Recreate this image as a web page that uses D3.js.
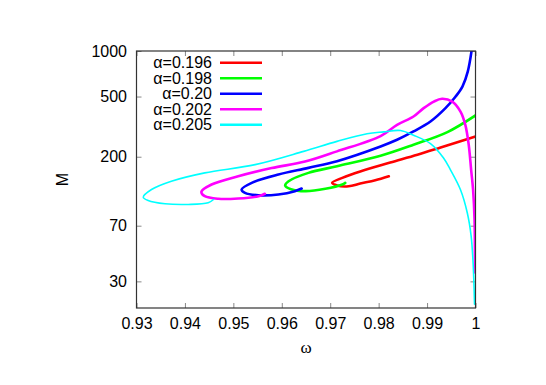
<!DOCTYPE html>
<meta charset="utf-8">
<title>M vs omega</title>
<style>
body { margin: 0; background: #fff; }
text { font-family: "Liberation Sans", Arial, sans-serif; }
.tick line { stroke: #888; }
.curve { fill: none; stroke-linejoin: round; stroke-linecap: round; }
</style>
<body>
<svg width="546" height="385" id="svg"></svg>
<script src="https://d3js.org/d3.v7.min.js"></script>
<script>

// values, (omega, M) per alpha
var alphas = ["0.196", "0.198", "0.20", "0.202", "0.205"];
var colors = ["#ff0000", "#00ff00", "#0000ff", "#ff00ff", "#00ffff"];

var w196 = [1.0000, 0.9928, 0.9880, 0.9824, 0.9762, 0.9725, 0.9704, 0.9714, 0.9738, 0.9762, 0.9793, 0.9821];
var m196 = [272, 230, 206, 183, 160, 145, 134.4, 129.1, 127.6, 133, 139.8, 148.6];

var w198 = [1.0000, 0.9942, 0.9872, 0.9804, 0.9714, 0.9655, 0.9614, 0.9607, 0.9619, 0.9649, 0.9690, 0.9725, 0.9731];
var m198 = [375, 291, 240, 203, 173, 156.4, 137.7, 129.1, 122, 118.4, 122.7, 131, 134.4];

var w200 = [0.9995, 0.9984, 0.9973, 0.9959, 0.9938, 0.9907, 0.9872, 0.9838, 0.9804, 0.9714, 0.9655, 0.9593, 0.9538, 0.9517, 0.9524, 0.9552, 0.9593, 0.9627, 0.9641];
var m200 = [1180, 730, 582, 500, 419, 342, 294, 259, 234, 187, 168.8, 152.5, 134.4, 121.4, 115.5, 111.4, 112.6, 118.4, 123.3];

var w202 = [0.9999, 0.9998, 0.9995, 0.9991, 0.9986, 0.9979, 0.9969, 0.9952, 0.9931, 0.9914, 0.9893, 0.9872, 0.9838, 0.9804, 0.9714, 0.9648, 0.9579, 0.9510, 0.9455, 0.9434, 0.9441, 0.9469, 0.9510, 0.9552, 0.9565];
var m202 = [34.3, 77, 121, 164, 240, 325, 398, 463, 483, 463, 419, 369, 325, 274, 217, 185.7, 168.3, 148.6, 131, 117.3, 109.7, 105.4, 105.9, 109.7, 113.8];

var w205 = [0.9998, 0.9995, 0.9991, 0.9983, 0.9969, 0.9948, 0.9934, 0.9907, 0.9872, 0.9845, 0.9810, 0.9776, 0.9714, 0.9645, 0.9545, 0.9441, 0.9372, 0.9331, 0.9314, 0.9324, 0.9359, 0.9407, 0.9448, 0.9459];
var m205 = [21.2, 39.9, 59.8, 85.3, 121, 164.5, 196, 244, 277.5, 298, 292, 284, 252.6, 217, 177.4, 156.4, 137.7, 121.4, 108, 102.8, 97.7, 96.7, 99.2, 104.3];

var xTicks = [0.93, 0.94, 0.95, 0.96, 0.97, 0.98, 0.99, 1];
var yTicks = [30, 70, 200, 500, 1000];

var series = [[w196, m196], [w198, m198], [w200, m200], [w202, m202], [w205, m205]];
var widths = [2.6, 2.6, 2.6, 2.6, 1.6];

var svg = d3.select("svg"),
    margin = {left: 136.5, right: 70.5, top: 51, bottom: 77};
var width = 546 - margin.left - margin.right,
    height = 385 - margin.top - margin.bottom;

var x = d3.scaleLinear().domain([0.93, 1]).range([0, width]);
var y = d3.scaleLog().domain([20, 1000]).range([height, 0]);

var g = svg.append("g").attr("transform", "translate(" + margin.left + "," + margin.top + ")");

g.append("clipPath").attr("id", "clip")
  .append("rect").attr("width", width).attr("height", height);

function fmtX(d) { return d === 1 ? "1" : d3.format(".2f")(d); }

var axB = g.append("g").attr("transform", "translate(0," + height + ")")
  .call(d3.axisBottom(x).tickValues(xTicks).tickFormat(fmtX).tickSize(-5).tickPadding(10));
var axT = g.append("g")
  .call(d3.axisTop(x).tickValues(xTicks).tickFormat("").tickSize(-5));
var axL = g.append("g")
  .call(d3.axisLeft(y).tickValues(yTicks).tickFormat(d3.format("d")).tickSize(-5).tickPadding(9.5));
var axR = g.append("g").attr("transform", "translate(" + width + ",0)")
  .call(d3.axisRight(y).tickValues(yTicks).tickFormat("").tickSize(-5));

[axB, axT, axL, axR].forEach(function(a) {
  a.attr("font-size", null).attr("font-family", null);
  a.select(".domain").remove();
  a.selectAll("text").attr("fill", "#000").style("font-size", "16px");
});

var line = d3.line()
    .x(function(d) { return x(d[0]); })
    .y(function(d) { return y(d[1]); })
    .curve(d3.curveCatmullRom.alpha(0.5));

var plot = g.append("g").attr("clip-path", "url(#clip)");
series.forEach(function(s, i) {
  var pts = s[0].map(function(w, j) { return [w, s[1][j]]; });
  plot.append("path")
      .attr("class", "curve")
      .attr("d", line(pts))
      .attr("stroke", colors[i])
      .attr("stroke-width", widths[i]);
});

// frame
g.append("rect")
  .attr("width", width).attr("height", height)
  .attr("fill", "none").attr("stroke", "#333").attr("stroke-width", 1.2);

// legend
var legend = g.append("g");
alphas.forEach(function(a, i) {
  var cy = 11.7 + i * 15.5;
  legend.append("text")
      .attr("x", 75.5).attr("y", cy + 5.6)
      .attr("text-anchor", "end")
      .style("font-size", "16px")
      .text("\u03b1=" + a);
  legend.append("line")
      .attr("x1", 83.5).attr("x2", 125.5)
      .attr("y1", cy).attr("y2", cy)
      .attr("stroke", colors[i]).attr("stroke-width", 2.4);
});

// axis titles
svg.append("text")
    .attr("x", margin.left + width / 2).attr("y", 353)
    .attr("text-anchor", "middle")
    .style("font-family", "'Liberation Serif', serif")
    .style("font-size", "17px")
    .text("\u03c9");

svg.append("text")
    .attr("transform", "translate(68," + (margin.top + height / 2) + ") rotate(-90)")
    .attr("text-anchor", "middle")
    .style("font-size", "16px")
    .text("M");

</script>
</body>
